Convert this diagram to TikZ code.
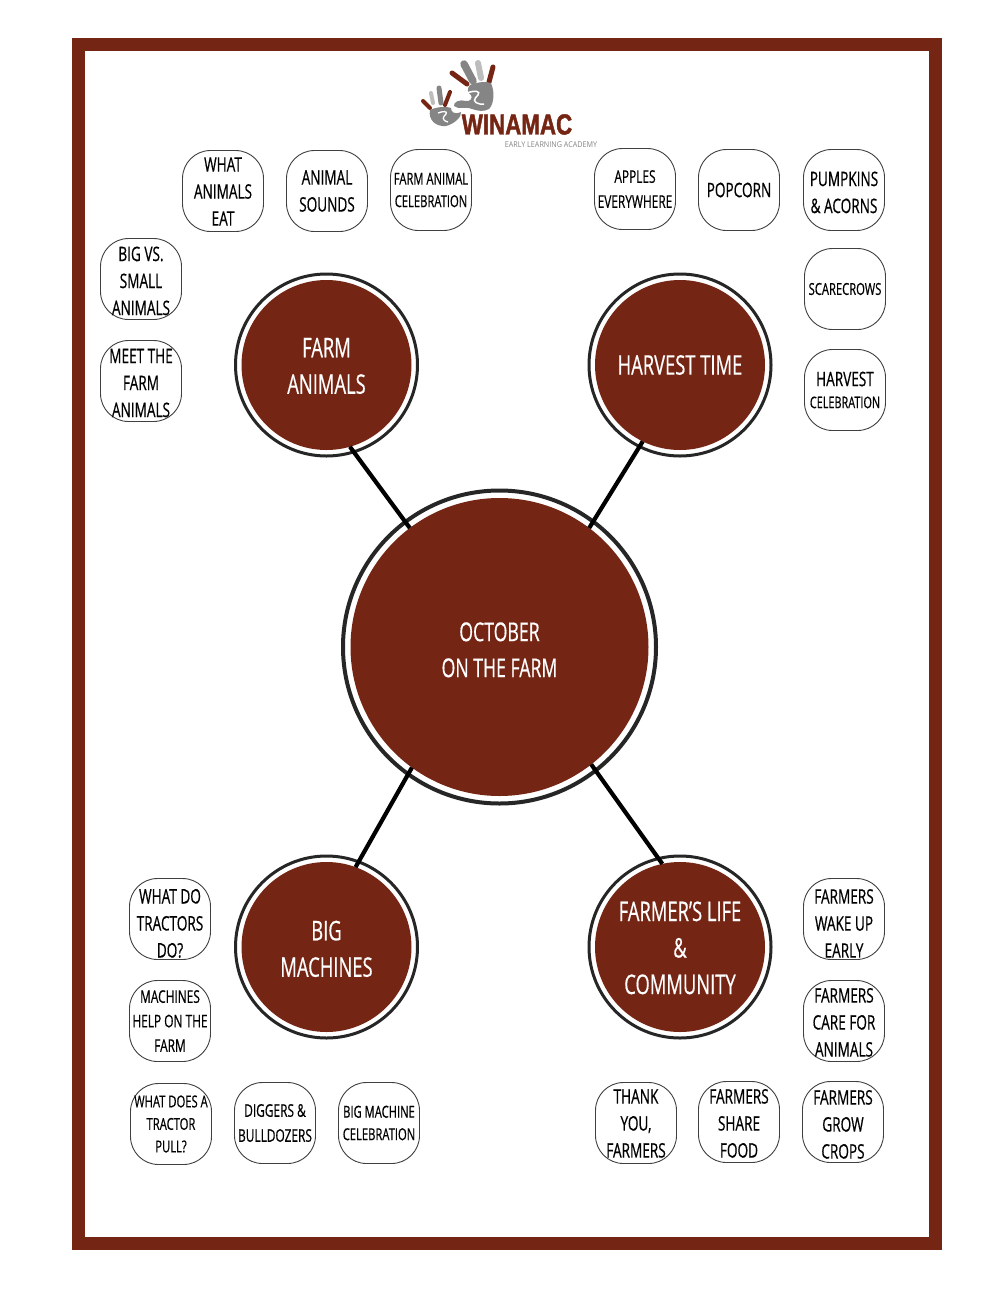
\documentclass[tikz,border=0pt]{standalone}
\usepackage{fontspec}
\setmainfont[FakeStretch=0.68,FakeBold=0.5]{Open Sans}
\newfontfamily\logofont[FakeStretch=0.77,FakeBold=1.5]{Liberation Sans Bold}
\newfontfamily\tagfont[FakeStretch=0.9]{Open Sans}
\definecolor{rust}{HTML}{752513}
\definecolor{lgray}{HTML}{BDBDBD}
\definecolor{mgray}{HTML}{858585}
\newcommand\dn[1]{\rule{0pt}{\dimexpr\fontcharht\font`H+#1pt+#1pt\relax}}
\tikzset{
 box/.style={draw=black!75,line width=0.9pt,rounded corners=28pt,minimum width=81pt,minimum height=81pt,inner sep=0pt,align=center,font=\fontsize{20}{27}\selectfont,text=black},
 smallbox/.style={box,font=\fontsize{16.5}{22.5}\selectfont},
 ring/.style={circle,draw=black!85,fill=white,line width=3pt,inner sep=0pt,outer sep=0pt},
 disc/.style={circle,fill=rust,text=white,inner sep=0pt,outer sep=0pt,align=center},
 hub/.style={disc,minimum size=298pt,font=\fontsize{26}{36}\selectfont},
 topic/.style={disc,minimum size=170pt,font=\fontsize{27}{36.5}\selectfont},
 spoke/.style={draw=black,line width=4.2pt},
 finger/.style={line width=5pt,line cap=round},
}
\begin{document}
\begin{tikzpicture}[x=1pt,y=-1pt]
\useasboundingbox (0,0) rectangle (1000,1294);
\fill[white] (0,0) rectangle (1000,1294);
\draw[rust,line width=13pt] (78.5,44.5) rectangle (935.5,1243.5);
% rings
\node[ring,line width=4pt,minimum size=313pt] at (499.5,647) {};
\foreach \x/\y in {326.5/365,680/365,326.5/947,680/947}
  \node[ring,minimum size=182pt] at (\x,\y) {};
% discs
\node[hub] (hubn) at (499.5,647) {\dn{3}OCTOBER\\ON THE FARM};
\node[topic] (farm) at (326.5,365) {\dn{1}FARM\\ANIMALS};
\node[topic] (harvest) at (680,365) {HARVEST TIME};
\node[topic] (big) at (326.5,947) {\dn{2}BIG\\MACHINES};
\node[topic] (life) at (680,947) {\dn{1}FARMER'S LIFE\\\&\\COMMUNITY};
% spokes
\draw[spoke] (farm.-74) -- (hubn.127.6);
\draw[spoke] (harvest.-116.3) -- (hubn.53.3);
\draw[spoke] (big.70) -- (hubn.-126.8);
\draw[spoke] (life.102) -- (hubn.-52);
% boxes
\node[box] (b1) at (223,191) {\dn{0.5}WHAT\\ANIMALS\\EAT};
\node[box] (b2) at (327,191) {ANIMAL\\SOUNDS};
\node[smallbox] (b3) at (431,190) {FARM ANIMAL\\CELEBRATION};
\node[box,font=\fontsize{17.5}{25}\selectfont] (b4) at (635,189) {APPLES\\EVERYWHERE};
\node[box] (b5) at (739,190) {POPCORN};
\node[box] (b6) at (844,190) {\dn{2.5}PUMPKINS\\\& ACORNS};
\node[box] (b7) at (141,279) {\dn{2}BIG VS.\\SMALL\\ANIMALS};
\node[box] (b8) at (141,381) {\dn{2}MEET THE\\FARM\\ANIMALS};
\node[smallbox,font=\fontsize{16.5}{22}\selectfont] (b9) at (845,289) {SCARECROWS};
\node[smallbox,font=\fontsize{16}{22}\selectfont] (b10) at (845,390) {\fontsize{20}{22}\selectfont HARVEST\\\fontsize{16}{22}\selectfont CELEBRATION};
\node[box] (b11) at (170,919) {\dn{4.5}WHAT DO\\TRACTORS\\DO?};
\node[box,font=\fontsize{17.5}{24.5}\selectfont] (b12) at (170,1021) {MACHINES\\HELP ON THE\\FARM};
\node[smallbox] (b13) at (171,1124) {WHAT DOES A\\TRACTOR\\PULL?};
\node[box,font=\fontsize{17.5}{25}\selectfont] (b14) at (275,1123) {DIGGERS \&\\BULLDOZERS};
\node[smallbox] (b15) at (379,1123) {BIG MACHINE\\CELEBRATION};
\node[box] (b16) at (636,1123) {\dn{0.5}THANK\\YOU,\\FARMERS};
\node[box] (b17) at (739,1122) {\dn{1.5}FARMERS\\SHARE\\FOOD};
\node[box] (b18) at (843,1122) {\dn{2.5}FARMERS\\GROW\\CROPS};
\node[box] (b19) at (844,919) {\dn{4.5}FARMERS\\WAKE UP\\EARLY};
\node[box] (b20) at (844,1021) {\dn{1.5}FARMERS\\CARE FOR\\ANIMALS};
% logo: large hand
\draw[finger,rust] (452,73) -- (467,84);
\draw[finger,mgray,line width=7.5pt] (464,64) -- (473,81);
\draw[finger,lgray,line width=6pt] (478,63) -- (481,78);
\draw[finger,rust] (493,67) -- (489,82);
\fill[mgray] (470,85) .. controls (478,82) and (486,81) .. (491,83) .. controls (495,92) and (494,104) .. (489,109)
  .. controls (484,112) and (478,111) .. (472,109) .. controls (465,106) and (458,110) .. (454,106)
  .. controls (453,102) and (460,99) .. (466,101) .. controls (470,102) and (473,98) .. (471,95)
  .. controls (467,93) and (467,88) .. (470,85) -- cycle;
\draw[white,line width=1.5pt] (467,93) .. controls (475,90) and (481,91) .. (478,95) .. controls (474,99) and (472,102) .. (480,104) -- (484,104);
% logo: small hand
\draw[finger,rust,line width=4pt] (423,101) -- (430,108);
\draw[finger,lgray,line width=4pt] (431,93) -- (433,103);
\draw[finger,mgray,line width=5pt] (439,88) -- (441,103);
\draw[finger,rust,line width=4pt] (450,92) -- (445,105);
\fill[mgray] (430,110) .. controls (436,107) and (446,106) .. (451,108) .. controls (451,112) and (454,115) .. (461,112)
  .. controls (462,117) and (454,124) .. (446,126) .. controls (436,127) and (428,120) .. (430,110) -- cycle;
\draw[white,line width=1.3pt] (438,113) .. controls (443,111) and (448,111) .. (446,114) .. controls (443,117) and (441,120) .. (448,122);
\node[font=\logofont\fontsize{29}{29}\selectfont,text=rust,inner sep=0pt] (logoa) at (517,124.5) {WINAMAC};
\node[font=\tagfont\fontsize{8}{8}\selectfont,text=mgray,inner sep=0pt] (logob) at (551,145) {EARLY LEARNING ACADEMY};
\end{tikzpicture}
\end{document}
